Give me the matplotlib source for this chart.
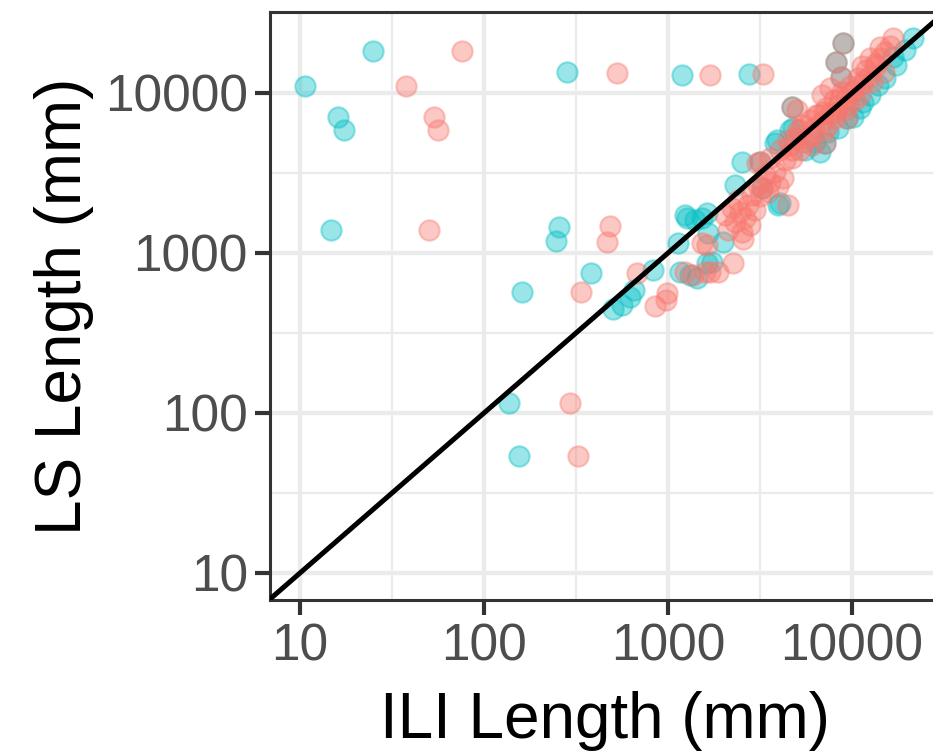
import matplotlib
matplotlib.use("Agg")
import matplotlib.pyplot as plt
import numpy as np

plt.rcParams['font.family'] = ['Liberation Sans', 'DejaVu Sans']

# ---- data: ILI length (x) and LS length (y), in mm ----
cyan_x = [10.6, 24.8, 16.1, 17.3, 14.7, 282, 255, 246, 380, 160, 136, 155, 1197, 2754,
          502, 562, 621, 653, 829, 1264, 1137, 1525, 1623, 1162, 1318, 1432, 1623, 1656,
          1999, 1728, 3975, 2515, 2312, 1237, 1402, 4062, 3898, 4603, 3818, 4797, 11520,
          10120, 17410, 16710, 21470,
          5554, 6295, 7405, 8390, 12530, 13840, 15110, 19410, 11050, 6699,
          3230, 3162, 4700, 7130, 9356, 8934, 8221, 8750]
cyan_y = [11060, 18400, 7050, 5870, 1400, 13460, 1454, 1194, 746, 573, 116, 54, 12960, 13150,
          447, 473, 531, 587, 783, 1648, 1150, 1648, 862, 764, 729, 695, 1771, 1328,
          1177, 883, 1995, 3722, 2661, 1728, 1608, 2046, 5083, 5871, 4850, 6015, 8825,
          7112, 14960, 16870, 21980,
          4403, 4941, 5706, 6040, 9716, 11220, 12410, 18570, 8054, 4277,
          2537, 3722, 8210, 4850, 6946, 20450, 15700, 12650]

salmon_x = [37.8, 75.9, 53.5, 56.5, 50, 530, 1698, 3282, 336, 293, 324, 484, 468,
            676, 850, 984, 975, 1525, 1237, 1367, 1589, 2462, 2620, 2790, 2312, 2119, 2525,
            2971, 2566, 1623, 2264, 1877, 1692, 4508, 3034, 3366, 3582, 3818, 3493, 3162,
            3962, 4217, 2722, 2862, 3084, 2041, 2228, 2400,
            3582, 4062, 4325, 4603, 4900, 5090, 5418, 5623, 5912, 6211, 6531, 6866, 7220,
            7591, 7980, 8390, 8822, 9275, 9750, 10250, 10780, 11330, 11910, 12530, 13340,
            14190, 15110, 14120, 16700, 16090, 6063, 7130, 8085, 9162, 10380, 5216, 4720,
            5024, 6866, 7591, 12530, 11330,
            4487, 4720, 5216, 5483, 6063, 6368, 7046, 7405, 8185, 8606, 9510, 10000,
            11050, 11610, 12840, 13490, 14930,
            3230, 3162, 4700, 7130, 9356, 8934, 8221, 8750]
salmon_y = [11060, 18400, 7050, 5870, 1400, 13390, 12960, 13150, 573, 116, 54, 1475, 1178,
            753, 466, 560, 508, 1150, 764, 729, 764, 1804, 1655, 1496, 1563, 1393, 1352,
            1857, 1218, 1122, 862, 764, 764, 1995, 3637, 3073, 2779, 3208, 2405, 2271,
            2623, 2943, 1995, 2305, 2661, 1728, 1910, 2144,
            3925, 4403, 3812, 4732, 5230, 5871, 6310, 5230, 6777, 6040, 7287, 6590, 8054,
            7390, 9040, 8290, 10140, 9306, 11060, 10440, 12410, 11380, 13920, 12770, 15180,
            16540, 18040, 19460, 21990, 19660, 4732, 5871, 6980, 7830, 9040, 4403, 3925,
            7830, 9716, 10740, 16540, 14750,
            5083, 4403, 5871, 4941, 5464, 7287, 7605, 6310, 7605, 9306, 8414, 10140,
            9716, 12060, 11720, 14750, 13530,
            2537, 3722, 8210, 4850, 6946, 20450, 15700, 12650]

major_ticks = [10, 100, 1000, 10000]
tick_labels = ["10", "100", "1000", "10000"]

# ---- figure ----
fig = plt.figure(figsize=(9.33, 7.56), dpi=100)
ax = fig.add_axes([270/933, 156/756, 670/933, 588/756])
ax.set_xscale('log')
ax.set_yscale('log')

minor = [10**(k + 0.5) for k in range(1, 5)]
ax.set_xticks(major_ticks)
ax.set_xticklabels(tick_labels)
ax.set_yticks(major_ticks)
ax.set_yticklabels(tick_labels)
ax.set_xticks(minor, minor=True)
ax.set_yticks(minor, minor=True)
ax.xaxis.set_minor_formatter(matplotlib.ticker.NullFormatter())
ax.yaxis.set_minor_formatter(matplotlib.ticker.NullFormatter())

ax.grid(which='major', color='#EBEBEB', lw=3.1)
ax.grid(which='minor', color='#EBEBEB', lw=1.6)
ax.set_axisbelow(True)

ax.tick_params(which='minor', length=0)
ax.tick_params(which='major', length=11, width=3, color='#333333',
               labelsize=37, labelcolor='#4D4D4D', pad=5)
for s in ax.spines.values():
    s.set_color('#333333')
    s.set_linewidth(2.2)

ax.scatter(cyan_x, cyan_y, s=215, color='#00BFC4', alpha=0.4,
           edgecolors='#00BFC4', linewidths=1.5, zorder=2)
ax.scatter(salmon_x, salmon_y, s=215, color='#F8766D', alpha=0.4,
           edgecolors='#F8766D', linewidths=1.5, zorder=3)

ax.axline((10, 10), (10000, 10000), color='black', lw=3.6, zorder=4)

ax.set_xlim(6.87, 30070)
ax.set_ylim(6.78, 32060)

ax.set_xlabel("ILI Length (mm)", fontsize=46, labelpad=14, color='black')
ax.set_ylabel("LS Length (mm)", fontsize=46, labelpad=8, color='black')

fig.savefig("out.png", dpi=100)
